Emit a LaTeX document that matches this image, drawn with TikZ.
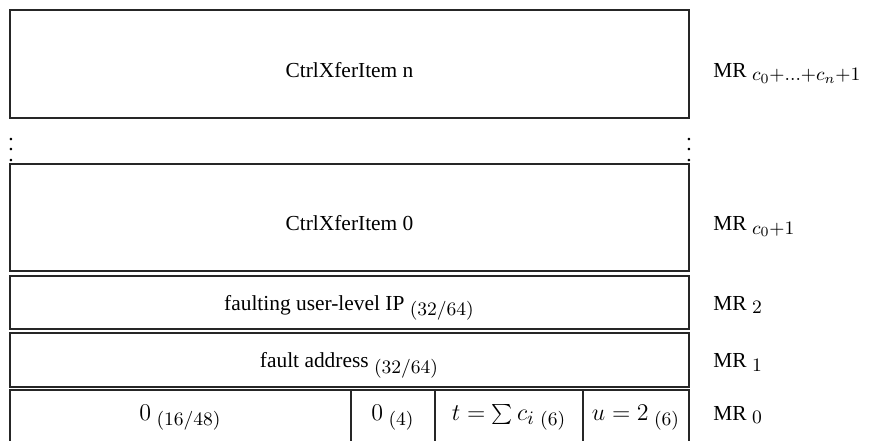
\documentclass[tikz,border=0pt]{standalone}
\usepackage{fix-cm}
\usepackage{fontspec}
\setmainfont{Liberation Serif}
\DeclareMathSizes{10.7}{12}{9.5}{7}
\newcommand\vdotsx{\vbox{\baselineskip=5.25pt\lineskiplimit=0pt\hbox{.}\hbox{.}\hbox{.}}}
\begin{document}
\begin{tikzpicture}[x=0.5pt,y=-0.5pt,
  font=\fontsize{10.7}{13}\selectfont,
  box/.style={draw=black!85, line width=0.6pt, inner sep=0pt, outer sep=0pt, anchor=north west},
  txt/.style={anchor=base, inner sep=0pt},
  mr/.style={anchor=base west, inner sep=0pt},
  dts/.style={inner sep=0pt, anchor=south}]
\useasboundingbox (0,0) rectangle (877,440);
% boxes
\node[box, minimum width=339.5pt, minimum height=54pt] (itemn) at (10,10) {};
\node[box, minimum width=339.5pt, minimum height=53.5pt] (item0) at (10,164) {};
\node[box, minimum width=339.5pt, minimum height=26.5pt] (ip) at (10,276) {};
\node[box, minimum width=339.5pt, minimum height=27pt] (fa) at (10,333) {};
\node[box, minimum width=170.5pt, minimum height=27pt] (c1) at (10,390) {};
\node[box, minimum width=42pt, minimum height=27pt] (c2) at (351,390) {};
\node[box, minimum width=74pt, minimum height=27pt] (c3) at (435,390) {};
\node[box, minimum width=53pt, minimum height=27pt] (c4) at (583,390) {};
% texts in boxes
\node[txt] (tn) at ([yshift=-6.5pt]itemn.center) {CtrlXferItem n};
\node[txt] (t0) at ([yshift=-6.5pt]item0.center) {CtrlXferItem 0};
\node[txt] (tip) at ([yshift=-3.75pt]ip.center) {faulting user-level IP $_{(32/64)}$};
\node[txt] (tfa) at ([yshift=-3.75pt]fa.center) {fault address $_{(32/64)}$};
\node[txt] (t1) at ([yshift=-1.5pt]c1.center) {$0$ $_{(16/48)}$};
\node[txt] (t2) at ([yshift=-1.5pt]c2.center) {$0$ $_{(4)}$};
\node[txt] (t3) at ([yshift=-1.5pt]c3.center) {$t=\sum c_i$ $_{(6)}$};
\node[txt] (t4) at ([yshift=-1.5pt]c4.center) {$u=2$ $_{(6)}$};
% dots
\node[dts] (dl) at (11,162) {\vdotsx};
\node[dts] (dr) at (689,162) {\vdotsx};
% register labels
\node[mr] (mrn) at ([xshift=12pt,yshift=-6.5pt]itemn.east) {MR $_{c_0+\ldots+c_n+1}$};
\node[mr] (mr0) at ([xshift=12pt,yshift=-6.5pt]item0.east) {MR $_{c_0+1}$};
\node[mr] (mr2) at ([xshift=12pt,yshift=-3.75pt]ip.east) {MR $_{2}$};
\node[mr] (mr1) at ([xshift=12pt,yshift=-3.75pt]fa.east) {MR $_{1}$};
\node[mr] (mrz) at ([xshift=12pt,yshift=-1.5pt]c4.east) {MR $_{0}$};
\end{tikzpicture}
\end{document}
